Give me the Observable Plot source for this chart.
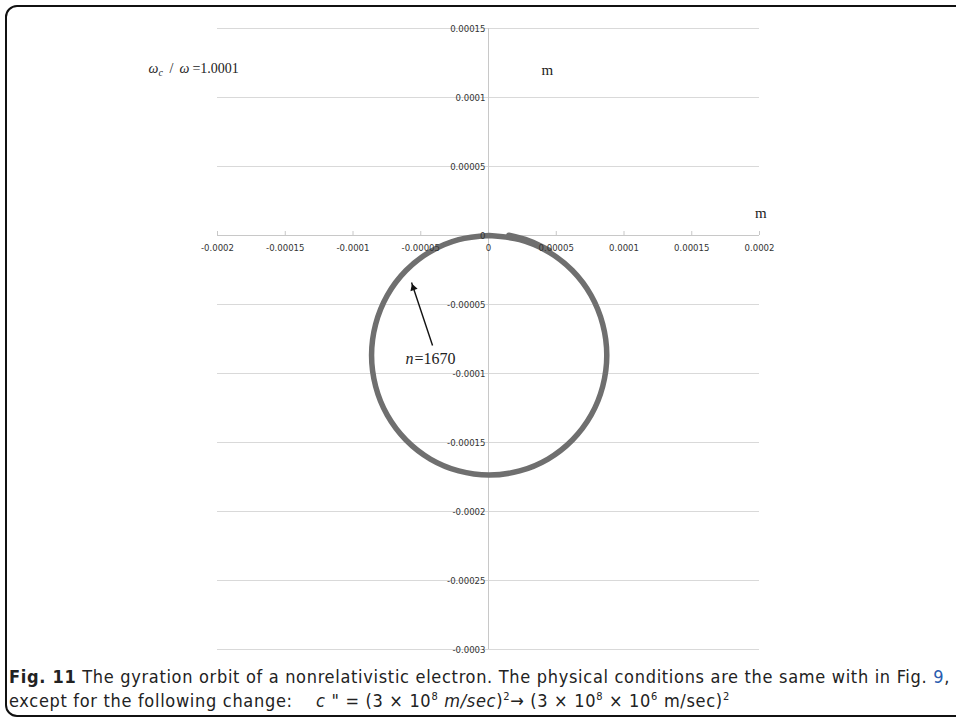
<!DOCTYPE html>
<html>
<head>
<meta charset="utf-8">
<script src="https://cdn.jsdelivr.net/npm/d3@7"></script>
<script src="https://cdn.jsdelivr.net/npm/@observablehq/plot@0.6"></script>
<style>
  html, body { margin: 0; padding: 0; background: #fff; }
  body { width: 956px; height: 721px; position: relative; overflow: hidden; }
  #frame {
    position: absolute; left: 5px; top: 5px; width: 980px; height: 712px;
    border: 2px solid #111; border-radius: 12px; box-sizing: border-box;
  }
  #chart { position: absolute; left: 0; top: 0; }
  #caption {
    position: absolute; left: 9px; top: 665px; width: 947px;
    font-family: "DejaVu Sans Condensed", "Open Sans", sans-serif;
    font-size: 18px; line-height: 24px; color: #222; white-space: nowrap;
  }
  #caption .line { display: inline-block; }
  #caption b { font-weight: bold; }
  #caption .ref { color: #2a5db0; }
  sup { font-size: 11px; line-height: 0; vertical-align: 7px; }
</style>
</head>
<body>
<div id="frame"></div>
<div id="chart"></div>
<div id="caption"><span class="line" id="cap1"><b>Fig. 11</b> The gyration orbit of a nonrelativistic electron. The physical conditions are the same with in Fig. <span class="ref">9</span>,</span><br><span class="line" id="cap2">except for the following change:&nbsp;&nbsp;&nbsp; <i>c</i> " = (3 × 10<sup>8</sup> <i>m/sec</i>)<sup>2</sup>→ (3 × 10<sup>8</sup> × 10<sup>6</sup> m/sec)<sup>2</sup></span></div>
<script>
// Axis ticks and their printed labels
const xTicks = [-0.0002, -0.00015, -0.0001, -0.00005, 0, 0.00005, 0.0001, 0.00015, 0.0002];
const xTickLabels = ["-0.0002", "-0.00015", "-0.0001", "-0.00005", "0", "0.00005", "0.0001", "0.00015", "0.0002"];
const yTicks = [0.00015, 0.0001, 0.00005, 0, -0.00005, -0.0001, -0.00015, -0.0002, -0.00025, -0.0003];
const yTickLabels = ["0.00015", "0.0001", "0.00005", "0", "-0.00005", "-0.0001", "-0.00015", "-0.0002", "-0.00025", "-0.0003"];

// Electron orbit (x, y in metres), traced from the origin
const orbitX = [0.0000005, 0.0000230, 0.0000439, 0.0000619, 0.0000757, 0.0000843, 0.0000873, 0.0000843,
  0.0000757, 0.0000619, 0.0000439, 0.0000230, 0.0000005, -0.0000220, -0.0000429, -0.0000609,
  -0.0000747, -0.0000833, -0.0000863, -0.0000833, -0.0000747, -0.0000609, -0.0000429, -0.0000220, 0.0000005];
const orbitY = [0, -0.0000030, -0.0000116, -0.0000254, -0.0000434, -0.0000643, -0.0000868, -0.0001093,
  -0.0001302, -0.0001482, -0.0001620, -0.0001706, -0.0001736, -0.0001706, -0.0001620, -0.0001482,
  -0.0001302, -0.0001093, -0.0000868, -0.0000643, -0.0000434, -0.0000254, -0.0000116, -0.0000030, 0];
// Last steps of the orbit, drifted slightly outward past the start
const tailX = [0.0000150, 0.0000300, 0.0000450];
const tailY = [0.0000002, -0.0000038, -0.0000108];

// Annotations
const arrowFrom = {x: -0.0000413, y: -0.0000797};
const arrowTo = {x: -0.0000568, y: -0.0000341};
const stepLabel = {x: -0.0000546, y: -0.0000891, n: "n", value: "=1670"};
const ratioLabel = {x: -0.000251, y: 0.000121};
const unitLabels = [{x: 0.0000435, y: 0.00012, text: "m"}, {x: 0.000201, y: 0.0000165, text: "m"}];

const orbit = orbitX.map((x, i) => ({x, y: orbitY[i]}));
const tail = tailX.map((x, i) => ({x, y: tailY[i]}));
const xt = xTicks.map((v, i) => ({v, label: xTickLabels[i]}));
const yt = yTicks.map((v, i) => ({v, label: yTickLabels[i]}));

const tickFont = "DejaVu Sans Condensed, sans-serif";
const serif = "Liberation Serif, DejaVu Serif, serif";
const ink = "#222";

// pointer direction, used to orient the filled arrowhead
const headAngle = -18.4;

const plot = Plot.plot({
  width: 956,
  height: 656,
  marginLeft: 217,
  marginRight: 197,
  marginTop: 28,
  marginBottom: 7,
  x: {domain: [-0.0002, 0.0002], axis: null},
  y: {domain: [-0.0003, 0.00015], axis: null},
  style: {background: "transparent"},
  marks: [
    Plot.ruleY(yt, {y: "v", stroke: "#d9d9d9", strokeWidth: 1}),
    Plot.ruleX([0], {stroke: "#c8c8c8", strokeWidth: 1}),
    Plot.ruleY([0], {stroke: "#c8c8c8", strokeWidth: 1}),
    Plot.ruleX(xt, {x: "v", y1: 0, y2: 0, insetTop: -4, stroke: "#c8c8c8"}),
    Plot.line(orbit, {x: "x", y: "y", curve: "catmull-rom", stroke: "#6f6f6f", strokeWidth: 5.5}),
    Plot.line(tail, {x: "x", y: "y", curve: "catmull-rom", stroke: "#6f6f6f", strokeWidth: 5.5}),
    Plot.text(xt, {x: "v", y: 0, text: "label", dy: 12, fontFamily: tickFont, fontSize: 9.5, fill: "#333"}),
    Plot.text(yt, {x: 0, y: "v", text: "label", dx: -3, textAnchor: "end", fontFamily: tickFont, fontSize: 9.5, fill: "#333"}),
    Plot.link([{x1: arrowFrom.x, y1: arrowFrom.y, x2: arrowTo.x, y2: arrowTo.y}], {
      x1: "x1", y1: "y1", x2: "x2", y2: "y2", stroke: "#111", strokeWidth: 1.4
    }),
    Plot.dot([arrowTo], {x: "x", y: "y", symbol: "triangle2", r: 3.6, rotate: headAngle, dx: 1.8, dy: 5.4, fill: "#111", stroke: "none"}),
    Plot.text([stepLabel], {x: "x", y: "y", text: "value", textAnchor: "start", fontFamily: serif, fontSize: 16, fill: ink}),
    Plot.text([stepLabel], {x: "x", y: "y", text: "n", textAnchor: "end", dx: -1, fontFamily: serif, fontStyle: "italic", fontSize: 16, fill: ink}),
    Plot.text([ratioLabel], {x: "x", y: "y", text: () => "ω", textAnchor: "start", fontFamily: serif, fontStyle: "italic", fontSize: 14, fill: ink}),
    Plot.text([ratioLabel], {x: "x", y: "y", text: () => "c", textAnchor: "start", dx: 10, dy: 4, fontFamily: serif, fontStyle: "italic", fontSize: 10, fill: ink}),
    Plot.text([ratioLabel], {x: "x", y: "y", text: () => "/", textAnchor: "start", dx: 21, fontFamily: serif, fontSize: 14, fill: ink}),
    Plot.text([ratioLabel], {x: "x", y: "y", text: () => "ω", textAnchor: "start", dx: 31, fontFamily: serif, fontStyle: "italic", fontSize: 14, fill: ink}),
    Plot.text([ratioLabel], {x: "x", y: "y", text: () => "=1.0001", textAnchor: "start", dx: 44, fontFamily: serif, fontSize: 14, fill: ink}),
    Plot.text(unitLabels, {x: "x", y: "y", text: "text", fontFamily: serif, fontSize: 15, fill: ink})
  ]
});
document.getElementById("chart").appendChild(plot);

// Spread the caption lines to the printed column width
function fit(id, target) {
  const el = document.getElementById(id);
  const n = el.textContent.length;
  const w = el.getBoundingClientRect().width;
  const ls = (target - w) / n;
  el.style.letterSpacing = ls + "px";
  return ls;
}
const spacing = fit("cap1", 941);
document.getElementById("cap2").style.letterSpacing = spacing + "px";
</script>
</body>
</html>
